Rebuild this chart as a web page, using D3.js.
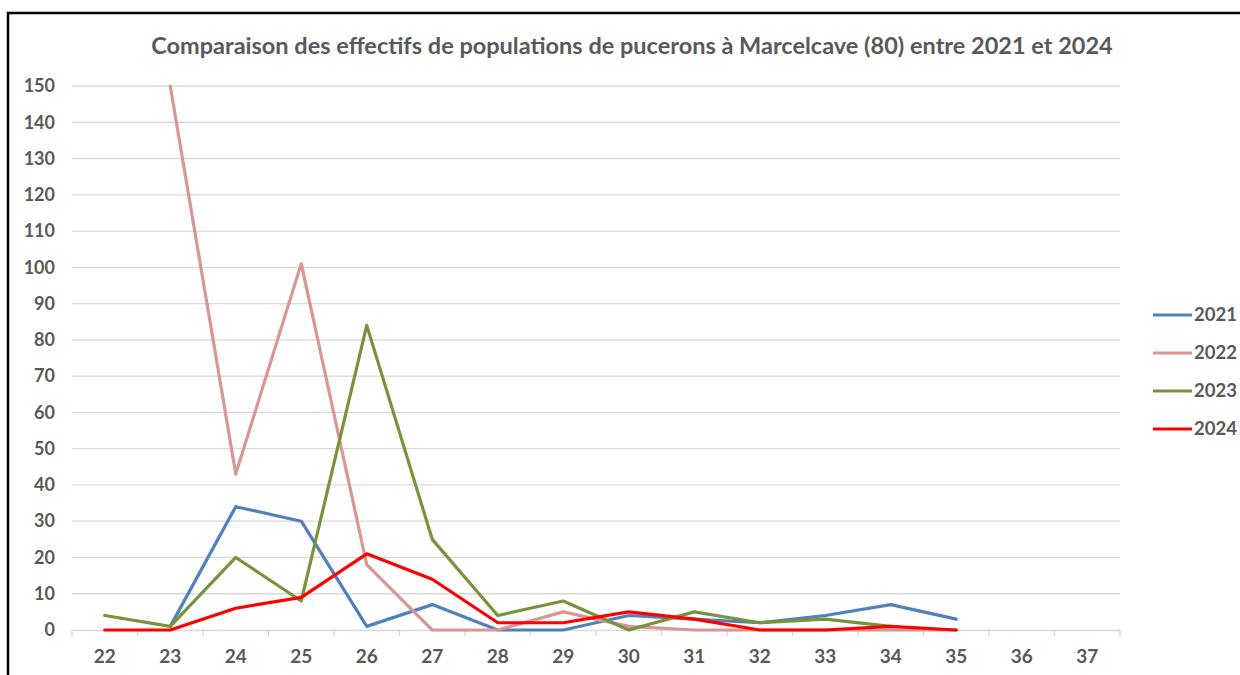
<!DOCTYPE html>
<html>
<head>
<meta charset="utf-8">
<script src="https://cdn.jsdelivr.net/npm/d3@7"></script>
<style>
  body { margin: 0; background: #fff; }
  svg text { font-family: Lato, "Open Sans", sans-serif; fill: #595959; font-weight: bold; }
</style>
</head>
<body>
<div id="chart"></div>
<script>
// weeks on the x axis
var weeks = [22, 23, 24, 25, 26, 27, 28, 29, 30, 31, 32, 33, 34, 35, 36, 37]
var yTicks = [0, 10, 20, 30, 40, 50, 60, 70, 80, 90, 100, 110, 120, 130, 140, 150]

// aphid counts per week (null = no count)
var v2021 = [null, 1, 34, 30, 1, 7, 0, 0, 4, 3, 2, 4, 7, 3, null, null]
var v2022 = [null, 150, 43, 101, 18, 0, 0, 5, 1, 0, 0, 0, 0, 0, null, null]
var v2023 = [4, 1, 20, 8, 84, 25, 4, 8, 0, 5, 2, 3, 1, null, null, null]
var v2024 = [0, 0, 6, 9, 21, 14, 2, 2, 5, 3, 0, 0, 1, 0, null, null]

var seriesNames = ["2021", "2022", "2023", "2024"]
var seriesValues = [v2021, v2022, v2023, v2024]
var colors = ["#4f81bd", "#d99694", "#77933c", "#ff0000"]

var W = 1240, H = 675
var margin = {top: 86, left: 72, right: 120, bottom: 45}
var width = 1120 - margin.left
var height = 630 - margin.top

var svg = d3.select("#chart").append("svg")
    .attr("width", W)
    .attr("height", H)

// frame
svg.append("rect")
    .attr("x", 8).attr("y", 13)
    .attr("width", 1250).attr("height", 700)
    .attr("fill", "#fff")
    .attr("stroke", "#000")
    .attr("stroke-width", 2.5)

svg.append("text")
    .attr("x", 632)
    .attr("y", 54)
    .attr("text-anchor", "middle")
    .style("font-size", "23.5px")
    .text("Comparaison des effectifs de populations de pucerons à Marcelcave (80) entre 2021 et 2024")

var g = svg.append("g")
    .attr("transform", "translate(" + margin.left + "," + margin.top + ")")

var x = d3.scaleBand()
    .domain(weeks)
    .range([0, width])

var y = d3.scaleLinear()
    .domain([0, 150])
    .range([height, 0])

// gridlines
g.append("g")
  .selectAll("line")
  .data(yTicks.filter(function(d) { return d > 0 }))
  .enter().append("line")
    .attr("x1", 0).attr("x2", width)
    .attr("y1", function(d) { return y(d) })
    .attr("y2", function(d) { return y(d) })
    .attr("stroke", "#d9d9d9")
    .attr("stroke-width", 1.3)

// y axis labels
var yAxis = g.append("g")
    .call(d3.axisLeft(y).tickValues(yTicks).tickSize(0).tickPadding(17))
yAxis.select(".domain").remove()
yAxis.selectAll("text").style("font-size", "18px")

// x axis with ticks on band edges
var xAxis = g.append("g")
    .attr("transform", "translate(0," + height + ")")
    .call(d3.axisBottom(x).tickSize(0).tickPadding(20))
xAxis.select(".domain").attr("stroke", "#d9d9d9").attr("stroke-width", 1.3)
xAxis.selectAll("text").style("font-size", "19px")
xAxis.selectAll(".edge")
  .data(d3.range(weeks.length + 1))
  .enter().append("line")
    .attr("class", "edge")
    .attr("x1", function(i) { return i * x.step() })
    .attr("x2", function(i) { return i * x.step() })
    .attr("y1", 0).attr("y2", 6)
    .attr("stroke", "#d9d9d9")
    .attr("stroke-width", 1.3)

// the lines
var line = d3.line()
    .defined(function(d) { return d.v != null })
    .x(function(d) { return x(d.w) + x.bandwidth() / 2 })
    .y(function(d) { return y(d.v) })

seriesValues.forEach(function(vals, i) {
  var pts = weeks.map(function(w, j) { return {w: w, v: vals[j]} })
  g.append("path")
    .datum(pts)
    .attr("fill", "none")
    .attr("stroke", colors[i])
    .attr("stroke-width", 3.2)
    .attr("stroke-linejoin", "round")
    .attr("stroke-linecap", "round")
    .attr("d", line)
})

// legend
var legend = svg.append("g")
  .selectAll("g")
  .data(seriesNames)
  .enter().append("g")
    .attr("transform", function(d, i) { return "translate(1153," + (315 + i * 38) + ")" })
legend.append("line")
    .attr("x1", 0).attr("x2", 39)
    .attr("stroke", function(d, i) { return colors[i] })
    .attr("stroke-width", 3.2)
legend.append("text")
    .attr("x", 41)
    .attr("dy", "0.35em")
    .style("font-size", "18.5px")
    .text(function(d) { return d })
</script>
</body>
</html>
